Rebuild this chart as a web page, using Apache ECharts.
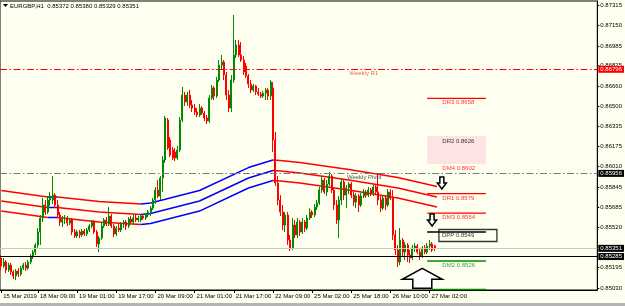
<!DOCTYPE html>
<html><head><meta charset="utf-8">
<script src="https://cdn.jsdelivr.net/npm/echarts@6/dist/echarts.min.js"></script>
<style>html,body{margin:0;padding:0;background:#fffff0;}#c{width:625px;height:306px;}</style>
</head><body><div id="c"></div><script>
// ---- data ----
const opens=[0.85273,0.85208,0.85241,0.85176,0.85216,0.85160,0.85128,0.85168,0.85144,0.85192,
0.85216,0.85192,0.85241,0.85289,0.85321,0.85378,0.85483,0.85596,0.85701,0.85644,
0.85741,0.85741,0.85781,0.85701,0.85620,0.85563,0.85588,0.85596,0.85555,0.85580,
0.85483,0.85451,0.85483,0.85459,0.85491,0.85467,0.85499,0.85531,0.85563,0.85483,
0.85386,0.85434,0.85531,0.85580,0.85547,0.85612,0.85531,0.85467,0.85515,0.85499,
0.85547,0.85563,0.85531,0.85588,0.85563,0.85596,0.85580,0.85580,0.85612,0.85596,
0.85620,0.85644,0.85676,0.85741,0.85822,0.85773,0.85919,0.86064,0.86387,0.86225,
0.86145,0.86128,0.86080,0.86145,0.86387,0.86588,0.86532,0.86588,0.86508,0.86483,
0.86451,0.86427,0.86483,0.86443,0.86403,0.86379,0.86564,0.86645,0.86580,0.86709,
0.86830,0.86855,0.86750,0.86588,0.86483,0.86709,0.86911,0.86992,0.86911,0.86871,
0.86822,0.86742,0.86677,0.86629,0.86661,0.86613,0.86596,0.86580,0.86604,0.86629,
0.86580,0.86645,0.86225,0.85878,0.85741,0.85644,0.85539,0.85620,0.85418,0.85354,
0.85539,0.85459,0.85563,0.85483,0.85563,0.85515,0.85596,0.85644,0.85620,0.85684,
0.85717,0.85822,0.85902,0.85806,0.85870,0.85935,0.85822,0.85701,0.85580,0.85741,
0.85886,0.85781,0.85838,0.85870,0.85781,0.85725,0.85773,0.85701,0.85773,0.85806,
0.85781,0.85822,0.85798,0.85846,0.85806,0.85741,0.85676,0.85757,0.85701,0.85806,
0.85757,0.85459,0.85338,0.85241,0.85418,0.85321,0.85378,0.85297,0.85273,0.85354,
0.85370,0.85321,0.85289,0.85354,0.85321,0.85370,0.85386,0.85372];
const closes=[0.85208,0.85241,0.85176,0.85216,0.85160,0.85128,0.85168,0.85144,0.85192,0.85216,
0.85192,0.85241,0.85289,0.85321,0.85378,0.85483,0.85596,0.85701,0.85644,0.85741,
0.85773,0.85781,0.85701,0.85620,0.85563,0.85588,0.85596,0.85555,0.85580,0.85483,
0.85451,0.85483,0.85459,0.85491,0.85467,0.85499,0.85531,0.85563,0.85483,0.85386,
0.85434,0.85531,0.85580,0.85547,0.85612,0.85531,0.85467,0.85515,0.85499,0.85547,
0.85563,0.85531,0.85588,0.85563,0.85596,0.85580,0.85596,0.85612,0.85596,0.85620,
0.85644,0.85676,0.85741,0.85822,0.85773,0.85919,0.86064,0.86403,0.86161,0.86104,
0.86080,0.86080,0.86145,0.86387,0.86588,0.86532,0.86588,0.86508,0.86483,0.86451,
0.86427,0.86483,0.86443,0.86403,0.86379,0.86564,0.86645,0.86580,0.86709,0.86830,
0.86855,0.86750,0.86588,0.86483,0.86709,0.86911,0.86992,0.86911,0.86871,0.86774,
0.86742,0.86677,0.86629,0.86661,0.86613,0.86596,0.86580,0.86604,0.86629,0.86580,
0.86693,0.86225,0.85878,0.85741,0.85644,0.85539,0.85620,0.85418,0.85354,0.85539,
0.85459,0.85563,0.85483,0.85563,0.85515,0.85596,0.85644,0.85620,0.85684,0.85717,
0.85822,0.85902,0.85806,0.85870,0.85935,0.85822,0.85701,0.85580,0.85741,0.85886,
0.85781,0.85838,0.85870,0.85781,0.85725,0.85773,0.85701,0.85773,0.85806,0.85781,
0.85822,0.85798,0.85846,0.85806,0.85741,0.85676,0.85757,0.85701,0.85806,0.85757,
0.85459,0.85338,0.85241,0.85418,0.85321,0.85378,0.85297,0.85273,0.85354,0.85370,
0.85321,0.85289,0.85354,0.85321,0.85370,0.85386,0.85338,0.85351];
const lows=[0.85176,0.85192,0.85152,0.85160,0.85136,0.85103,0.85095,0.85120,0.85128,0.85176,
0.85168,0.85176,0.85225,0.85265,0.85297,0.85354,0.85378,0.85563,0.85620,0.85628,
0.85693,0.85709,0.85676,0.85596,0.85531,0.85523,0.85547,0.85531,0.85539,0.85459,
0.85434,0.85434,0.85434,0.85442,0.85451,0.85451,0.85483,0.85515,0.85467,0.85362,
0.85321,0.85418,0.85515,0.85531,0.85531,0.85515,0.85442,0.85451,0.85483,0.85483,
0.85515,0.85499,0.85515,0.85547,0.85547,0.85563,0.85563,0.85563,0.85580,0.85580,
0.85604,0.85612,0.85660,0.85709,0.85757,0.85741,0.85806,0.86040,0.86145,0.86088,
0.86064,0.86056,0.86064,0.86128,0.86370,0.86500,0.86500,0.86483,0.86451,0.86427,
0.86411,0.86411,0.86427,0.86379,0.86354,0.86362,0.86548,0.86548,0.86564,0.86693,
0.86790,0.86709,0.86548,0.86451,0.86451,0.86685,0.86887,0.86895,0.86855,0.86750,
0.86726,0.86645,0.86604,0.86613,0.86588,0.86580,0.86564,0.86564,0.86548,0.86548,
0.86548,0.86128,0.85854,0.85701,0.85612,0.85499,0.85483,0.85378,0.85329,0.85338,
0.85434,0.85434,0.85451,0.85467,0.85483,0.85499,0.85580,0.85596,0.85604,0.85660,
0.85701,0.85798,0.85789,0.85773,0.85854,0.85798,0.85660,0.85547,0.85434,0.85701,
0.85741,0.85676,0.85789,0.85757,0.85693,0.85676,0.85644,0.85684,0.85757,0.85757,
0.85765,0.85773,0.85773,0.85781,0.85701,0.85644,0.85660,0.85660,0.85684,0.85741,
0.85418,0.85297,0.85200,0.85216,0.85289,0.85257,0.85241,0.85233,0.85257,0.85321,
0.85305,0.85257,0.85273,0.85305,0.85305,0.85338,0.85321,0.85329];
const highs=[0.85297,0.85273,0.85257,0.85233,0.85233,0.85176,0.85184,0.85192,0.85208,0.85233,
0.85241,0.85257,0.85305,0.85338,0.85394,0.85515,0.85620,0.85757,0.85741,0.85773,
0.85806,0.85935,0.85798,0.85741,0.85644,0.85612,0.85620,0.85612,0.85596,0.85596,
0.85507,0.85499,0.85499,0.85507,0.85507,0.85515,0.85547,0.85580,0.85580,0.85499,
0.85451,0.85563,0.85596,0.85604,0.85684,0.85628,0.85547,0.85531,0.85547,0.85563,
0.85580,0.85580,0.85604,0.85612,0.85620,0.85620,0.85612,0.85628,0.85628,0.85636,
0.85660,0.85693,0.85757,0.85846,0.85902,0.85935,0.86096,0.86419,0.86403,0.86249,
0.86169,0.86161,0.86177,0.86411,0.86653,0.86613,0.86613,0.86629,0.86548,0.86516,
0.86483,0.86516,0.86500,0.86459,0.86427,0.86588,0.86669,0.86661,0.86734,0.86871,
0.86911,0.86871,0.86774,0.86629,0.86750,0.87234,0.87032,0.87032,0.87016,0.86903,
0.86847,0.86758,0.86709,0.86677,0.86669,0.86645,0.86613,0.86621,0.86645,0.86645,
0.86709,0.86693,0.86290,0.85935,0.85781,0.85701,0.85644,0.85644,0.85459,0.85596,
0.85580,0.85596,0.85580,0.85596,0.85580,0.85620,0.85676,0.85660,0.85709,0.85741,
0.85846,0.85935,0.85919,0.85902,0.85967,0.85951,0.85838,0.85741,0.85773,0.85919,
0.85902,0.85862,0.85886,0.85886,0.85822,0.85798,0.85789,0.85798,0.85830,0.85822,
0.85846,0.85838,0.85862,0.85862,0.85959,0.85773,0.85781,0.85781,0.85830,0.85830,
0.85822,0.85499,0.85378,0.85515,0.85434,0.85402,0.85394,0.85338,0.85378,0.85394,
0.85386,0.85354,0.85370,0.85378,0.85394,0.85418,0.85402,0.85380];

const nSlots = 244;
const categories = Array.from({length:nSlots}, (_, i) => String(i));
const tickIdx = [0,15,31,47,63,79,95,111,127,143,159,175];
const tickLabels = ['15 Mar 2019','18 Mar 09:00','19 Mar 01:00','19 Mar 17:00','20 Mar 09:00','21 Mar 01:00','21 Mar 17:00','22 Mar 09:00','25 Mar 02:00','25 Mar 18:00','26 Mar 10:00','27 Mar 02:00'];
const yTicks = [0.87315,0.87150,0.86985,0.86825,0.86660,0.86500,0.86335,0.86175,0.86010,0.85845,0.85685,0.85520,0.85195,0.85030];

const maIdx = [0,19,23,40,57,61,81,101,111,114,122,142,162,178];
const maTop = [0.85818,0.85765,0.85765,0.85729,0.85709,0.85717,0.85818,0.86003,0.86064,0.86060,0.86044,0.85987,0.85923,0.85850];
const maMid = [0.85733,0.85681,0.85681,0.85644,0.85624,0.85632,0.85733,0.85919,0.85979,0.85975,0.85959,0.85902,0.85838,0.85765];
const maBot = [0.85652,0.85600,0.85600,0.85564,0.85543,0.85551,0.85652,0.85838,0.85898,0.85894,0.85878,0.85822,0.85757,0.85685];
const maSegFrom = [0,19,23,57,111];
const maSegTo   = [19,23,57,111,178];
const maSegUp   = [false,true,false,true,false];

// weekly levels
const weeklyR1 = 0.86796, weeklyPivot = 0.85956, bidPrice = 0.85351, hLine = 0.85285;

// daily levels
const dayFrom = 174, dayTo = 198;
const dayNames = ['DR3 0.8658','DR1 0.8579','DM3 0.8564','DPP 0.8549','DM2 0.8526'];
const dayValues = [0.86562,0.85792,0.85636,0.85483,0.85249];
const dr2Top = 0.86257, dm4 = 0.86032, bottomLevel = 0.85020;

// arrows
const arrowIdx = [180,176,172];
const arrowPrice = [0.85830,0.85531,0.85190];
const arrowDir = ['down','down','up'];

// ---- chart ----
const FONT = 'Liberation Sans, Arial, sans-serif';
const RED = '#ff0000', BLUE = '#0000ff', GREEN = '#008a00';
const chart = echarts.init(document.getElementById('c'), null, {renderer:'canvas'});

const series = [];
// envelope lines
[maTop, maMid, maBot].forEach(band => {
  maSegFrom.forEach((f, s) => {
    const t = maSegTo[s];
    series.push({
      type:'line', silent:true, symbol:'none', z:2, animation:false,
      lineStyle:{color: maSegUp[s] ? BLUE : RED, width:1.5},
      data: maIdx.map((x,k)=>[x, band[k]]).filter(p => p[0] >= f && p[0] <= t)
    });
  });
});
// daily level segments
const dayColors = [RED, RED, RED, '#000', GREEN];
dayValues.forEach((v,k) => {
  series.push({type:'line', silent:true, symbol:'none', z:3, animation:false,
    lineStyle:{color:dayColors[k], width: k===3 ? 1.5 : 1.3},
    data:[[dayFrom, v],[dayTo, v]]});
});
series.push({type:'line', silent:true, symbol:'none', z:3, animation:false,
  lineStyle:{color:GREEN, width:1.5}, data:[[dayFrom+2, bottomLevel],[dayTo, bottomLevel]]});

// candles + weekly lines + DR2 zone
const endLabel = (bg) => ({show:true, position:'end', distance:1, formatter:(p)=>p.value.toFixed(5),
  backgroundColor:bg, color:'#fff', padding:[1,2,0,2], fontSize:6, fontFamily:FONT});
series.push({
  type:'candlestick', z:4, animation:false, barWidth:1.5,
  data: opens.map((o,i)=>[o, closes[i], lows[i], highs[i]]),
  itemStyle:{color:GREEN, color0:RED, borderColor:GREEN, borderColor0:RED, borderWidth:1},
  markLine:{silent:true, symbol:['none','none'], animation:false, precision:5,
    data:[
      {yAxis:weeklyR1, lineStyle:{color:RED, type:[7,2.5,1.5,2.5], width:1}, label:endLabel('#ff0000')},
      {yAxis:weeklyPivot, lineStyle:{color:'#7a7a7a', type:[7,2.5,1.5,2.5], width:1}, label:endLabel('#000')},
      {yAxis:bidPrice, lineStyle:{color:'#c8c8c8', type:'solid', width:1}, label:endLabel('#000')},
      {yAxis:hLine, lineStyle:{color:'#000', type:'solid', width:1.2}, label:endLabel('#000')}
    ]},
  markArea:{silent:true, itemStyle:{color:'#fde3e3'},
    data:[[{coord:[dayFrom, dr2Top]},{coord:[dayTo, dm4]}]]}
});

// text labels
const txt = (idx, price, text, color, dy, extra) => ({value:[idx, price],
  label:Object.assign({show:true, position:'right', distance:0, formatter:text, color:color,
    fontSize:6, fontFamily:FONT, offset:[0,dy]}, extra||{})});
const labelColors = [RED, RED, RED, '#000', GREEN];
const labelData = [
  txt(142, weeklyR1, 'Weekly R1', '#e83a3a', 4),
  txt(141, weeklyPivot, 'Weekly Pivot', '#222', 3.5),
  txt(180, dr2Top, 'DR2 0.8626', '#000', 5),
  txt(180, dm4, 'DM4 0.8602', RED, 4)
];
dayNames.forEach((n,k) => {
  if (k === 3) {
    labelData.push(txt(179, dayValues[k], n, '#000', 3.5,
      {borderColor:'#000', borderWidth:1.3, padding:[2,3,2,3], width:52, lineHeight:8, offset:[-1,3.5]}));
  } else {
    labelData.push(txt(180, dayValues[k], n, labelColors[k], 4.5));
  }
});
series.push({type:'scatter', silent:true, z:6, animation:false, symbolSize:1,
  itemStyle:{color:'rgba(0,0,0,0)'}, data:labelData});

chart.setOption({
  animation:false,
  backgroundColor:'#fffff0',
  textStyle:{fontFamily:FONT},
  grid:{left:0, right:26, top:1, bottom:16, show:true, borderColor:'#000', borderWidth:1},
  xAxis:{type:'category', data:categories, boundaryGap:true,
    axisLine:{show:true, lineStyle:{color:'#000'}},
    axisTick:{show:true, alignWithLabel:true, interval:(i)=>tickIdx.includes(i), length:3, lineStyle:{color:'#000'}},
    axisLabel:{interval:(i)=>tickIdx.includes(i), formatter:(v,i)=>tickLabels[tickIdx.indexOf(i)],
      fontSize:6, color:'#000', align:'left', margin:3, padding:[0,0,0,2], fontFamily:FONT},
    splitLine:{show:false}},
  yAxis:{type:'value', position:'right', min:0.85015, max:0.87347, scale:true,
    splitLine:{show:false},
    axisLine:{show:true, lineStyle:{color:'#000'}},
    axisTick:{show:true, customValues:yTicks, length:2, lineStyle:{color:'#000'}},
    axisLabel:{customValues:yTicks, formatter:(v)=>v.toFixed(5), fontSize:6, color:'#000', margin:3, fontFamily:FONT}},
  series:series
});

// annotations placed through the chart's own coordinate system
const g = [];
arrowIdx.forEach((idx,k) => {
  const p = chart.convertToPixel({gridIndex:0}, [idx, arrowPrice[k]]);
  let pts;
  if (arrowDir[k] === 'down') {
    pts = [[-2,-12],[2,-12],[2,-6],[4.5,-6],[0,0],[-4.5,-6],[-2,-6]];
  } else {
    pts = [[0,0],[20,11],[9.5,11],[9.5,20],[-9.5,20],[-9.5,11],[-20,11]];
  }
  g.push({type:'polygon', z:100, silent:true,
    shape:{points: pts.map(q => [p[0]+q[0], p[1]+q[1]])},
    style:{fill:'#ffffff', stroke:'#000', lineWidth:1.5}});
});
g.push({type:'polygon', z:100, shape:{points:[[3,4],[8,4],[5.5,7]]}, style:{fill:'#000'}});
g.push({type:'text', z:100, x:10, y:6, style:{text:'EURGBP,H1  0.85372 0.85380 0.85329 0.85351',
  fill:'#000', font:'6px '+FONT, textVerticalAlign:'middle'}});
g.push({type:'rect', z:100, shape:{x:0, y:303, width:625, height:3}, style:{fill:'#b4b4b4'}});
chart.setOption({graphic:g});
</script></body></html>
